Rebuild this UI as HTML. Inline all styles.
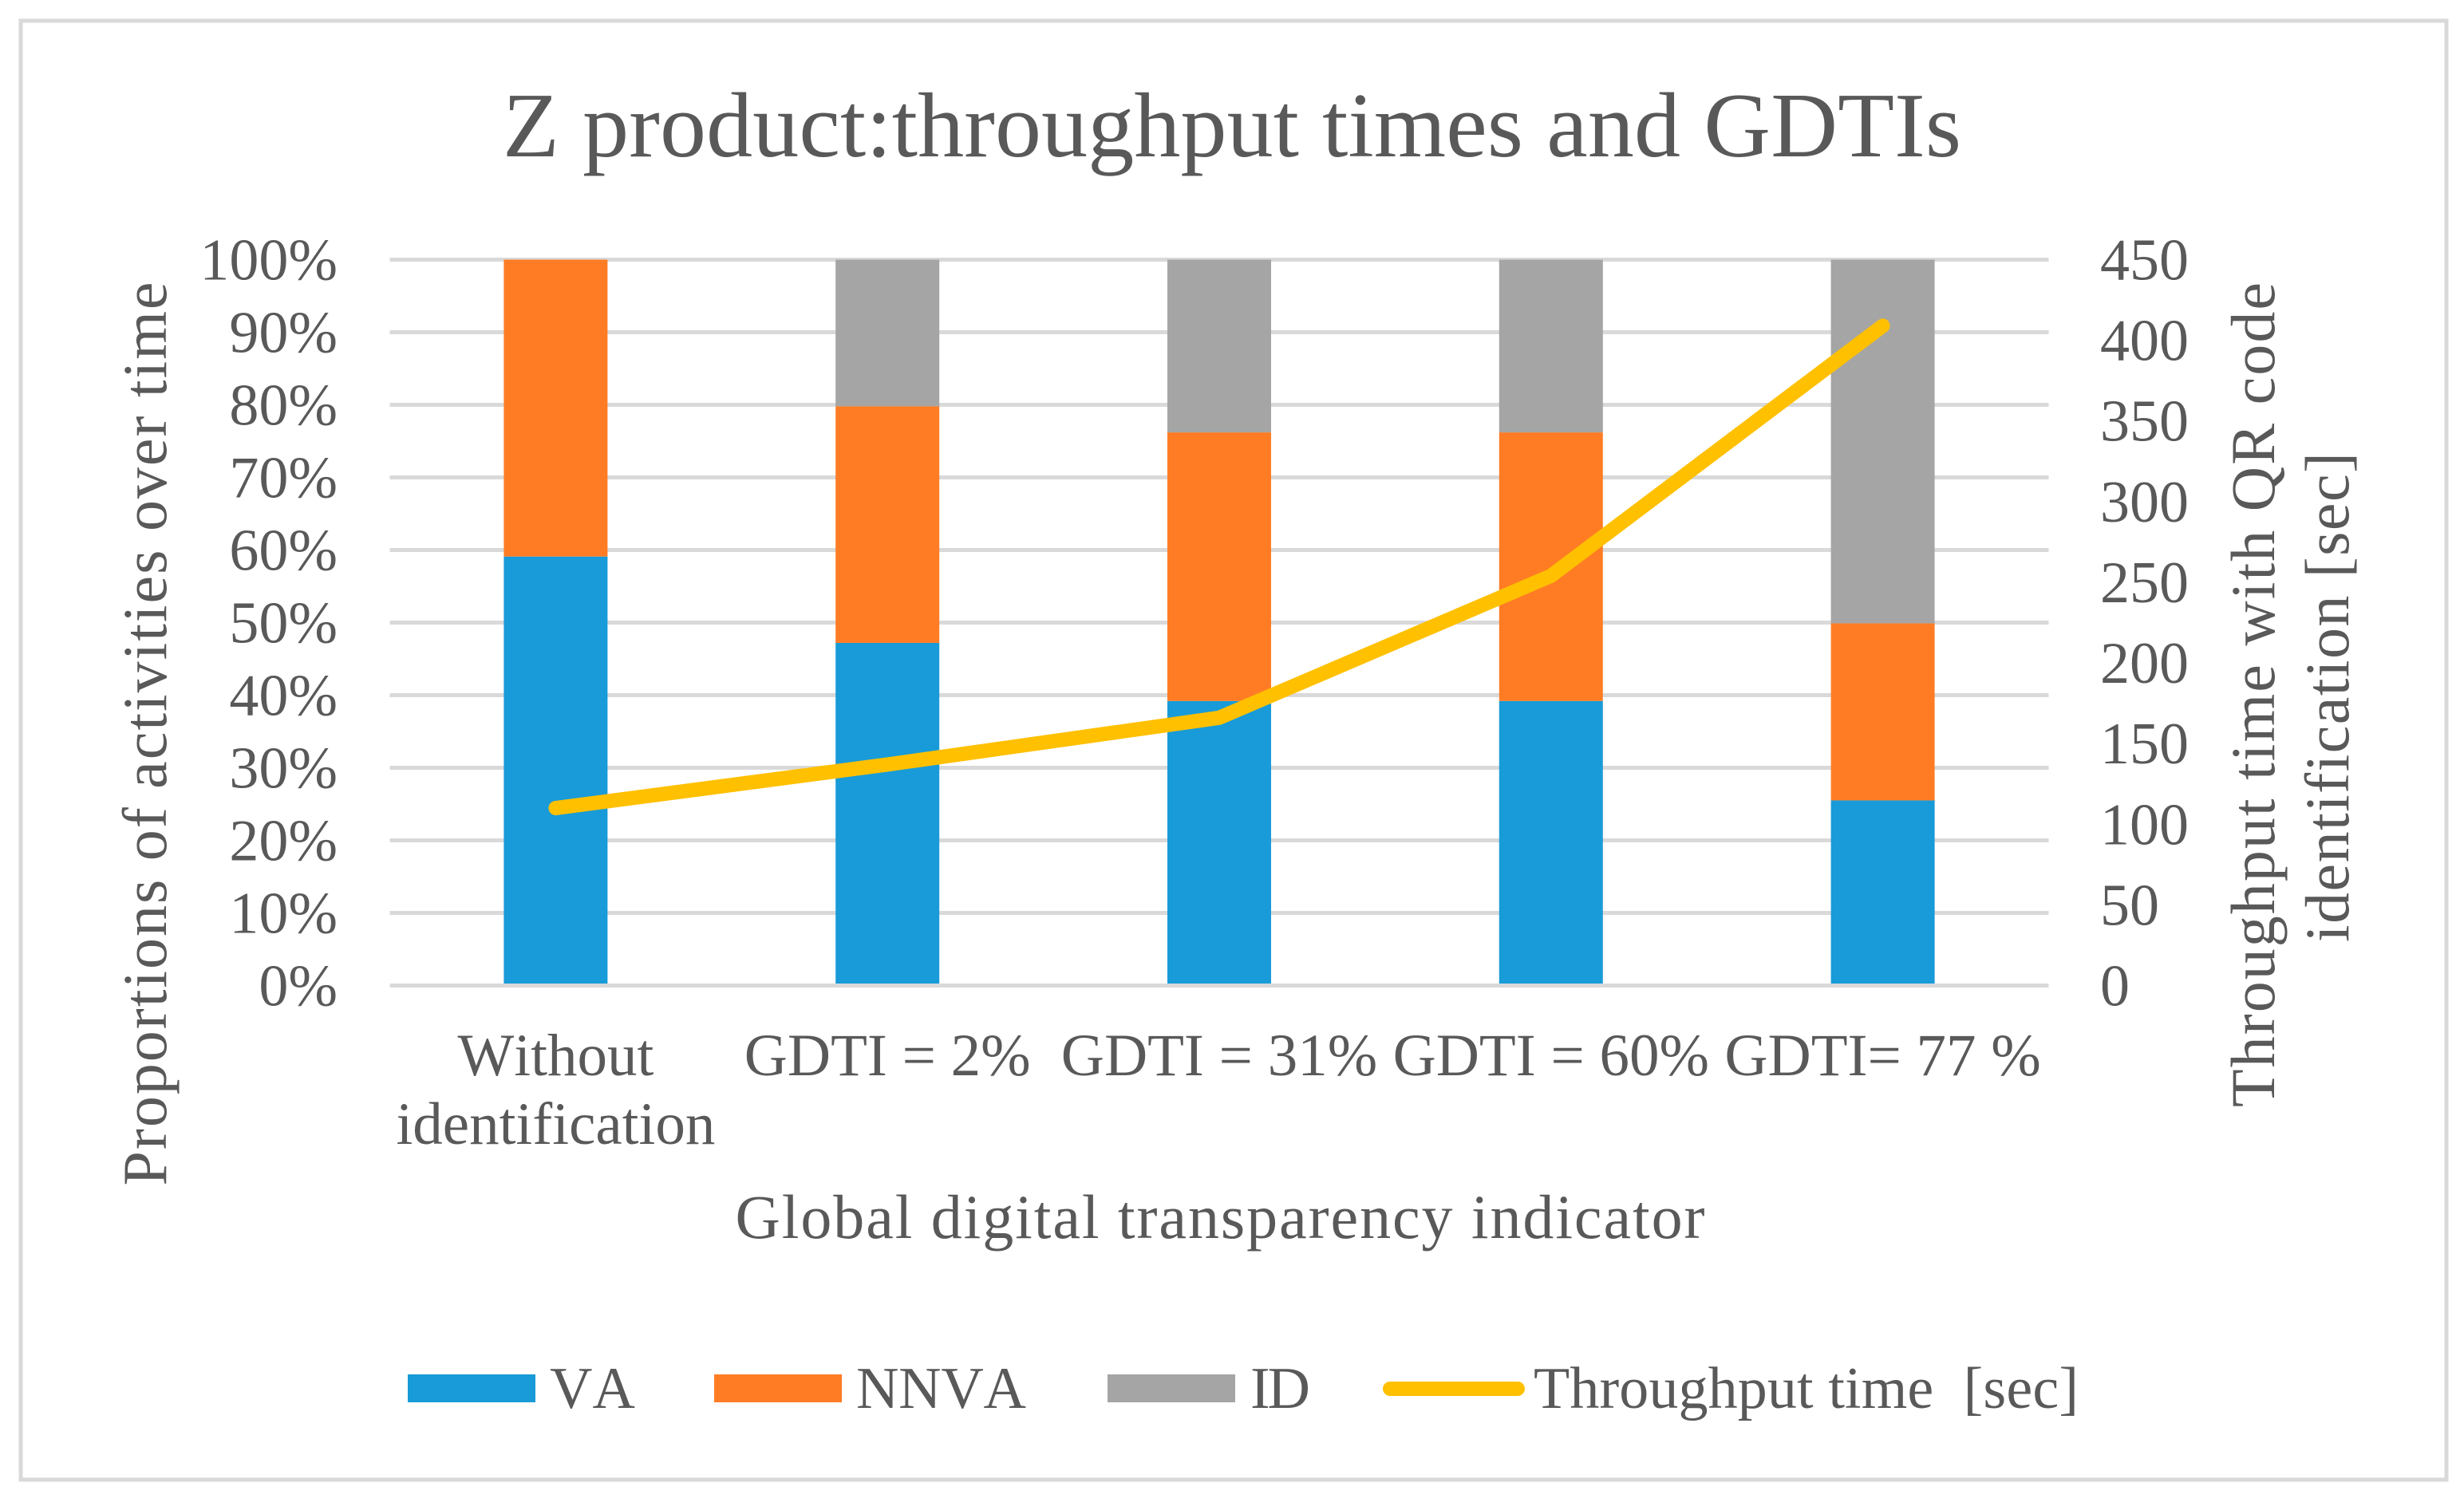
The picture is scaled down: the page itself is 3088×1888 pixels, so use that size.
<!DOCTYPE html>
<html lang="en">
<head>
<meta charset="utf-8">
<title>Z product: throughput times and GDTIs</title>
<style>
html,body{margin:0;padding:0;background:#fff;width:3088px;height:1888px;overflow:hidden}
svg{display:block}
text{font-family:"Liberation Serif","DejaVu Serif",serif;fill:#595959;white-space:pre;font-kerning:none}
</style>
</head>
<body>
<svg id="chart" xmlns="http://www.w3.org/2000/svg" width="3088" height="1888" viewBox="0 0 3088 1888">
  <rect x="0" y="0" width="3088" height="1888" fill="#ffffff"/>
  <rect x="26" y="26" width="3040" height="1829" fill="#ffffff" stroke="#d9d9d9" stroke-width="5"/>
  <text x="1544" y="196" font-size="116" text-anchor="middle" textLength="1828" lengthAdjust="spacing">Z product:throughput times and GDTIs</text>
  <g id="grid"></g>
  <g id="bars"></g>
  <g id="axisline"></g>
  <g id="lineg"></g>
  <g id="leftticks"></g>
  <g id="rightticks"></g>
  <g id="cats"></g>
  <text transform="translate(208,920) rotate(-90)" font-size="78" text-anchor="middle" textLength="1133" lengthAdjust="spacing">Proportions of activities over time</text>
  <text transform="translate(2850,871) rotate(-90)" font-size="78" text-anchor="middle" textLength="1034" lengthAdjust="spacing">Throughput time with QR code</text>
  <text transform="translate(2943,874) rotate(-90)" font-size="78" text-anchor="middle" textLength="614" lengthAdjust="spacing">identification [sec]</text>
  <text x="1529" y="1552" font-size="78" text-anchor="middle" textLength="1215" lengthAdjust="spacing">Global digital transparency indicator</text>
  <g>
    <rect x="511" y="1723" width="160" height="35" fill="#189bd8"/>
    <text x="689" y="1765" font-size="74" textLength="107" lengthAdjust="spacing">VA</text>
    <rect x="895" y="1723" width="160" height="35" fill="#ff7c24"/>
    <text x="1073" y="1765" font-size="74" textLength="213" lengthAdjust="spacing">NNVA</text>
    <rect x="1388" y="1723" width="160" height="35" fill="#a5a5a5"/>
    <text x="1567" y="1765" font-size="74" textLength="75" lengthAdjust="spacing">ID</text>
    <line x1="1742" y1="1741" x2="1902" y2="1741" stroke="#ffc000" stroke-width="18" stroke-linecap="round"/>
    <text x="1922" y="1765" font-size="74" textLength="683" lengthAdjust="spacing">Throughput time  [sec]</text>
  </g>
</svg>
<script>
const categories = [["Without","identification"],["GDTI = 2%"],["GDTI = 31%"],["GDTI = 60%"],["GDTI= 77 %"]];
const vaValues = [59.1, 47.2, 39.2, 39.2, 25.5];
const nnvaValues = [40.9, 32.6, 37.0, 37.0, 24.4];
const idValues = [0, 20.2, 23.8, 23.8, 50.1];
const throughputValues = [110, 137, 166, 254, 409];
const leftTickValues = [0, 10, 20, 30, 40, 50, 60, 70, 80, 90, 100];
const rightTickValues = [0, 50, 100, 150, 200, 250, 300, 350, 400, 450];

const NS = 'http://www.w3.org/2000/svg';
const plot = {left: 488.5, right: 2567.5, top: 325.5, bottom: 1235.5};
const barWidth = 130;
function yLeft(v){ return plot.bottom - (v / 100) * (plot.bottom - plot.top); }
function yRight(v){ return plot.bottom - (v / 450) * (plot.bottom - plot.top); }
function xCenter(i){ return plot.left + (i + 0.5) * (plot.right - plot.left) / categories.length; }
function mk(tag, parent, props){
  const el = document.createElementNS(NS, tag);
  Object.keys(props).forEach(function(k){ el.setAttribute(k, props[k]); });
  parent.appendChild(el);
  return el;
}

const gridG = document.getElementById('grid');
leftTickValues.forEach(function(v){
  if (v === 0) return;
  const gl = mk('line', gridG, {x1: plot.left, x2: plot.right, y1: yLeft(v), y2: yLeft(v), stroke: '#d9d9d9', 'stroke-width': 5});
  
  
});

const barsG = document.getElementById('bars');
categories.forEach(function(c, i){
  const x = xCenter(i) - barWidth / 2;
  const s1 = vaValues[i], s2 = s1 + nnvaValues[i], s3 = s2 + idValues[i];
  const va = mk('rect', barsG, {x: x, width: barWidth, y: yLeft(s1), height: yLeft(0) - yLeft(s1), fill: '#189bd8'});
  
  
  const nn = mk('rect', barsG, {x: x, width: barWidth, y: yLeft(s2), height: yLeft(s1) - yLeft(s2), fill: '#ff7c24'});
  
  
  const idb = mk('rect', barsG, {x: x, width: barWidth, y: yLeft(s3), height: yLeft(s2) - yLeft(s3), fill: '#a5a5a5'});
  
  
});

const axisG = document.getElementById('axisline');
const base = mk('line', axisG, {x1: plot.left, x2: plot.right, y1: yLeft(0), y2: yLeft(0), stroke: '#d9d9d9', 'stroke-width': 5});



const lineG = document.getElementById('lineg');
const pts = throughputValues.map(function(v, i){ return xCenter(i) + ',' + yRight(v); }).join(' ');
const pl = mk('polyline', lineG, {points: pts, fill: 'none', stroke: '#ffc000', 'stroke-width': 18, 'stroke-linecap': 'round', 'stroke-linejoin': 'round'});



const lt = document.getElementById('leftticks');
leftTickValues.forEach(function(v){
  const t = mk('text', lt, {x: 423, y: yLeft(v) + 25, 'font-size': 74, 'text-anchor': 'end'});
  t.textContent = v + '%';
  
  
});

const rt = document.getElementById('rightticks');
rightTickValues.forEach(function(v){
  const t = mk('text', rt, {x: 2632, y: yRight(v) + 25, 'font-size': 74});
  t.textContent = String(v);
  
  
});

const catG = document.getElementById('cats');
categories.forEach(function(lines, i){
  lines.forEach(function(line, j){
    const t = mk('text', catG, {x: xCenter(i), y: 1348 + j * 86, 'font-size': 75, 'text-anchor': 'middle'});
    t.textContent = line;
    
    
  });
});
</script>
</body>
</html>
